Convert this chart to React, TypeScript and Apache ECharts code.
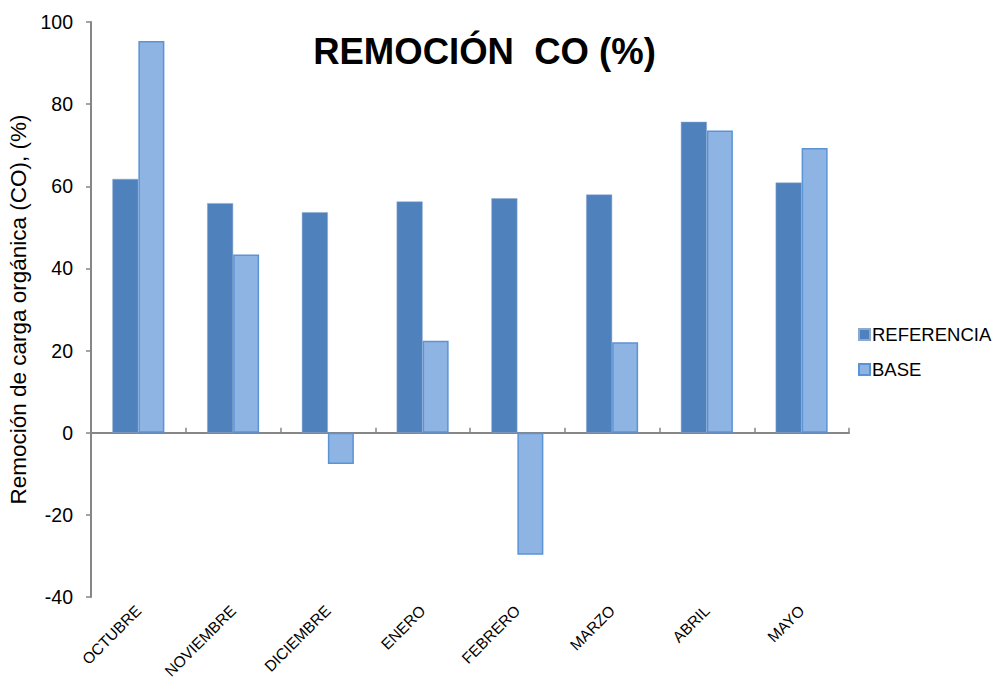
import React, { useEffect, useRef } from "react";
import * as echarts from "echarts";

const categories = ["OCTUBRE", "NOVIEMBRE", "DICIEMBRE", "ENERO", "FEBRERO", "MARZO", "ABRIL", "MAYO"];
const referencia = [61.8, 55.9, 53.7, 56.3, 57.1, 58.0, 75.7, 60.9];
const base = [95.4, 43.4, -7.6, 22.4, -29.7, 22.0, 73.6, 69.3];
const yTicks = { min: -40, max: 100, interval: 20 };

export default function App() {
  const ref = useRef<HTMLDivElement>(null);
  useEffect(() => {
    if (!ref.current) return;
    const chart = echarts.init(ref.current, undefined, { renderer: "svg" });
    const font = "Liberation Sans, Arial, sans-serif";
    chart.setOption({
      animation: false,
      backgroundColor: "#ffffff",
      textStyle: { fontFamily: font },
      title: {
        text: "REMOCIÓN  CO (%)",
        left: 479.5,
        textAlign: "center",
        top: 28,
        textStyle: { fontFamily: font, fontSize: 36.5, fontWeight: "bold", color: "#000" },
      },
      legend: {
        orient: "vertical",
        left: 853,
        top: 320,
        itemWidth: 11,
        itemHeight: 11,
        itemGap: 16,
        icon: "rect",
        textStyle: { fontFamily: font, fontSize: 18.5, color: "#000", padding: [0, 0, 0, -3] },
        data: ["REFERENCIA", "BASE"],
      },
      grid: { left: 91, right: 146, top: 22, bottom: 84, containLabel: false, outerBoundsMode: "none" },
      xAxis: [
        {
          type: "category",
          data: categories,
          position: "bottom",
          axisLine: { show: false, onZero: false },
          axisTick: { show: false },
          axisLabel: {
            rotate: 45,
            margin: 11,
            fontSize: 15.5,
            color: "#000",
            fontFamily: font,
            interval: 0,
          },
        },
        {
          type: "category",
          data: categories,
          position: "bottom",
          axisLine: { show: true, onZero: true, lineStyle: { color: "#868686", width: 2 } },
          axisTick: { show: true, inside: true, length: 5, lineStyle: { color: "#868686", width: 1.5 } },
          axisLabel: { show: false },
        },
      ],
      yAxis: {
        type: "value",
        min: yTicks.min,
        max: yTicks.max,
        interval: yTicks.interval,
        name: "Remoción de carga orgánica (CO), (%)",
        nameLocation: "middle",
        nameGap: 60,
        nameRotate: 90,
        nameTextStyle: { fontFamily: font, fontSize: 22.5, color: "#000" },
        axisLine: { show: true, lineStyle: { color: "#868686", width: 2 } },
        axisTick: { show: true, length: 5, lineStyle: { color: "#868686", width: 1.5 } },
        axisLabel: { fontSize: 19.5, color: "#000", fontFamily: font, margin: 18 },
        splitLine: { show: false },
      },
      series: [
        {
          name: "REFERENCIA",
          type: "bar",
          xAxisIndex: 0,
          data: referencia,
          barWidth: 26,
          barGap: "0%",
          itemStyle: { color: "#4F81BD", borderColor: "#8EA9CF", borderWidth: 0.5 },
        },
        {
          name: "BASE",
          type: "bar",
          xAxisIndex: 0,
          data: base,
          barWidth: 26,
          barGap: "0%",
          itemStyle: { color: "#8EB4E3", borderColor: "#5B93D7", borderWidth: 1.5 },
        },
      ],
    });
    return () => chart.dispose();
  }, []);
  return <div ref={ref} style={{ width: 995, height: 681, position: "absolute", left: 0, top: 0 }} />;
}
